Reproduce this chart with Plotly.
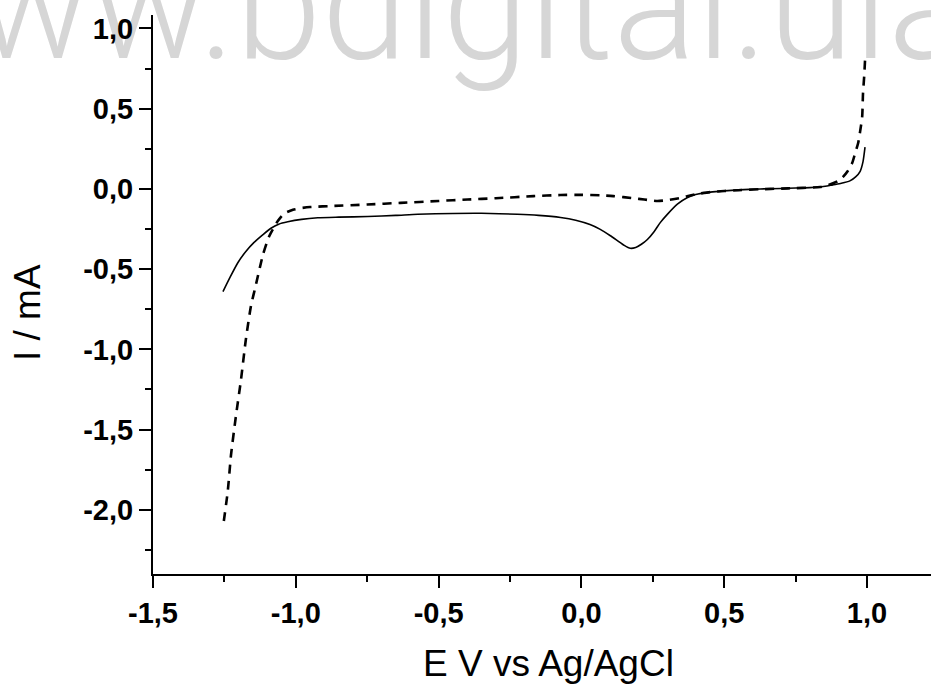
import plotly.graph_objects as go

# Forward scan (solid)
E_solid = [-1.255, -1.23, -1.203, -1.175, -1.147, -1.115, -1.087, -1.06, -1.028, -0.98,
           -0.923, -0.85, -0.748, -0.65, -0.573, -0.45, -0.35, -0.224, -0.15, -0.073,
           -0.02, 0.03, 0.066, 0.1, 0.126, 0.15, 0.171, 0.19, 0.21, 0.231,
           0.255, 0.276, 0.30, 0.336, 0.37, 0.40, 0.451, 0.5, 0.55, 0.626,
           0.7, 0.75, 0.8, 0.836, 0.86, 0.88, 0.91, 0.94, 0.96, 0.976, 0.986, 0.993]
I_solid = [-0.64, -0.55, -0.46, -0.39, -0.335, -0.285, -0.245, -0.22, -0.205, -0.19,
           -0.18, -0.176, -0.172, -0.165, -0.158, -0.153, -0.152, -0.158, -0.165, -0.178,
           -0.195, -0.222, -0.252, -0.29, -0.322, -0.352, -0.37, -0.365, -0.345, -0.315,
           -0.265, -0.21, -0.16, -0.095, -0.055, -0.035, -0.02, -0.012, -0.006, 0.0,
           0.003, 0.006, 0.008, 0.012, 0.018, 0.025, 0.035, 0.05, 0.075, 0.11, 0.17, 0.26]

# Reverse scan (dashed)
E_dash = [0.993, 0.99, 0.986, 0.983, 0.976, 0.969, 0.958, 0.948, 0.932, 0.916,
          0.9, 0.881, 0.86, 0.836, 0.8, 0.75, 0.7, 0.626, 0.55, 0.5,
          0.451, 0.4, 0.37, 0.346, 0.3, 0.266, 0.22, 0.182, 0.112, 0.066,
          0.0, -0.073, -0.168, -0.3, -0.399, -0.5, -0.633, -0.75, -0.867, -0.95,
          -0.983, -1.01, -1.042, -1.063, -1.08, -1.094, -1.115, -1.14, -1.157, -1.175,
          -1.192, -1.21, -1.227, -1.238, -1.252]
I_dash = [0.80, 0.70, 0.596, 0.45, 0.36, 0.286, 0.22, 0.161, 0.11, 0.075,
          0.05, 0.035, 0.022, 0.012, 0.008, 0.005, 0.002, -0.002, -0.008, -0.013,
          -0.02, -0.033, -0.045, -0.056, -0.07, -0.075, -0.066, -0.058, -0.045, -0.04,
          -0.037, -0.038, -0.045, -0.058, -0.066, -0.075, -0.087, -0.097, -0.106, -0.113,
          -0.12, -0.13, -0.155, -0.2, -0.25, -0.298, -0.41, -0.6, -0.73, -0.94,
          -1.19, -1.42, -1.66, -1.88, -2.07]

x_tickvals = [-1.5, -1.0, -0.5, 0.0, 0.5, 1.0]
x_ticktext = ["-1,5", "-1,0", "-0,5", "0,0", "0,5", "1,0"]
x_minor = [-1.25, -0.75, -0.25, 0.25, 0.75]
y_tickvals = [1.0, 0.5, 0.0, -0.5, -1.0, -1.5, -2.0]
y_ticktext = ["1,0", "0,5", "0,0", "-0,5", "-1,0", "-1,5", "-2,0"]
y_minor = [0.75, 0.25, -0.25, -0.75, -1.25, -1.75, -2.25]

x_title = "E V vs Ag/AgCl"
y_title = "I / mA"
watermark = "www.bdigital.ula"

fig = go.Figure()
fig.add_trace(go.Scatter(x=E_solid, y=I_solid, mode="lines",
                         line=dict(color="black", width=1.6, shape="spline", smoothing=0.6),
                         showlegend=False, hoverinfo="skip"))
fig.add_trace(go.Scatter(x=E_dash, y=I_dash, mode="lines",
                         line=dict(color="black", width=2.6, dash="9px,7px", shape="spline", smoothing=0.6),
                         showlegend=False, hoverinfo="skip"))

W, H = 931, 691
L, R, T, B = 153, 0, 15, 117
pw, ph = W - L - R, H - T - B

def px(xp):
    return (xp - L) / pw

def py(yp):
    return (H - B - yp) / ph

tickfont = dict(family="Liberation Sans, Arial, sans-serif", size=29, color="black", weight="bold")
axis_common = dict(showline=True, linecolor="black", linewidth=2, mirror=False,
                   ticks="outside", ticklen=12, tickwidth=2, tickcolor="black",
                   showgrid=False, zeroline=False, tickfont=tickfont)

fig.update_xaxes(range=[-1.5, 1.224], tickmode="array", tickvals=x_tickvals, ticktext=x_ticktext,
                 minor=dict(tickmode="array", tickvals=x_minor, ticks="outside", ticklen=6,
                            tickwidth=2, tickcolor="black", showgrid=False),
                 **axis_common)
fig.update_yaxes(range=[-2.40, 1.084], tickmode="array", tickvals=y_tickvals, ticktext=y_ticktext,
                 minor=dict(tickmode="array", tickvals=y_minor, ticks="outside", ticklen=6,
                            tickwidth=2, tickcolor="black", showgrid=False),
                 **axis_common)

title_font = dict(family="Liberation Sans, Arial, sans-serif", size=37, color="black")
fig.add_annotation(text=x_title, xref="paper", yref="paper", x=px(548), y=py(663),
                   xanchor="center", yanchor="middle", showarrow=False, font=title_font)
fig.add_annotation(text=y_title, xref="paper", yref="paper", x=px(28), y=py(313),
                   xanchor="center", yanchor="middle", showarrow=False, font=title_font, textangle=-90)

fig.add_shape(type="rect", xref="paper", yref="paper",
              x0=px(-146), x1=px(1200), y0=py(85), y1=py(-70),
              line=dict(width=0), fillcolor="rgba(0,0,0,0)", layer="below",
              label=dict(text=watermark, textposition="bottom left", padding=0,
                         font=dict(family="Roboto, Liberation Sans, sans-serif", size=155,
                                   color="#d6d6d6", weight=300)))

fig.update_layout(width=W, height=H, margin=dict(l=L, r=R, t=T, b=B, pad=0),
                  plot_bgcolor="white", paper_bgcolor="white", showlegend=False)

fig.write_html("out.html")
